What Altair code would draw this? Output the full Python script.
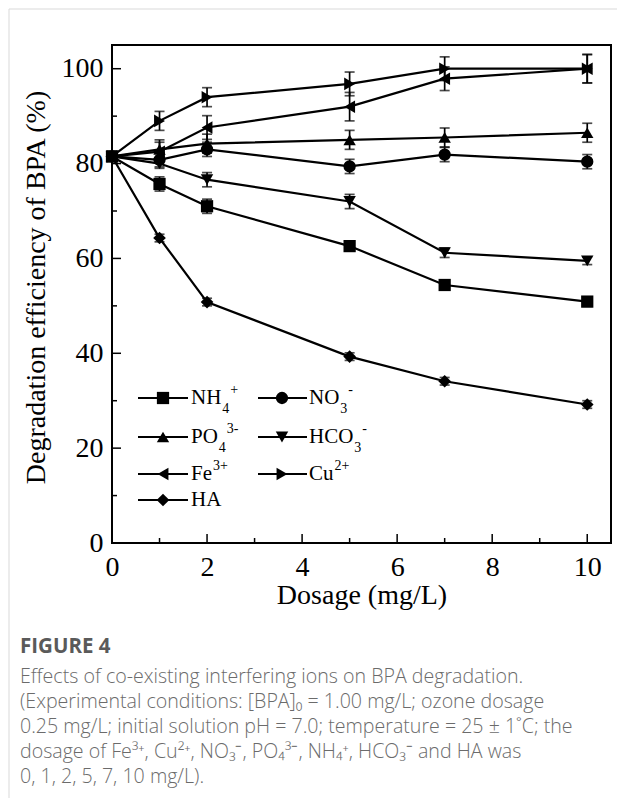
import altair as alt
import pandas as pd

# ---------------- data ----------------
dose = [0, 1, 2, 5, 7, 10]
series = ["NH4", "NO3", "PO4", "HCO3", "Fe", "Cu", "HA"]
shapes = ["square", "circle", "triangle-up", "triangle-down", "triangle-left", "triangle-right", "diamond"]
marker_sizes = [150, 160, 300, 300, 300, 300, 230]

nh4 = [81.5, 75.7, 71.0, 62.6, 54.4, 50.9]
no3 = [81.5, 80.8, 83.0, 79.4, 81.9, 80.4]
po4 = [81.5, 83.0, 84.2, 85.0, 85.5, 86.5]
hco3 = [81.5, 80.0, 76.6, 72.0, 61.2, 59.5]
fe = [81.5, 82.5, 87.6, 92.0, 97.9, 100.0]
cu = [81.5, 89.0, 94.0, 96.8, 100.0, 100.0]
ha = [81.5, 64.3, 50.8, 39.3, 34.1, 29.2]

nh4_err = [1.0, 1.5, 1.5, 1.0, 1.0, 1.0]
no3_err = [1.0, 1.5, 1.5, 1.5, 1.5, 1.5]
po4_err = [1.0, 2.0, 2.0, 2.0, 2.0, 2.0]
hco3_err = [1.0, 1.0, 1.5, 1.5, 1.0, 0.8]
fe_err = [1.0, 2.0, 2.5, 3.0, 2.5, 3.0]
cu_err = [1.0, 2.0, 2.0, 2.5, 2.5, 3.0]
ha_err = [1.0, 0.8, 0.8, 0.8, 0.8, 0.8]

values = [nh4, no3, po4, hco3, fe, cu, ha]
errors = [nh4_err, no3_err, po4_err, hco3_err, fe_err, cu_err, ha_err]

x_major = [0, 2, 4, 6, 8, 10]
x_minor = [1, 3, 5, 7, 9]
y_major = [0, 20, 40, 60, 80, 100]
y_minor = [10, 30, 50, 70, 90]

# legend text pieces
leg_main = ["NH", "NO", "PO", "HCO", "Fe", "Cu", "HA"]
leg_sub = ["4", "3", "4", "3", "", "", ""]
leg_sup = ["+", "-", "3-", "-", "3+", "2+", ""]

caption_title = "FIGURE 4"
caption_lines = [
    "Effects of co-existing interfering ions on BPA degradation.",
    "(Experimental conditions: [BPA]\u2080 = 1.00 mg/L; ozone dosage",
    "0.25 mg/L; initial solution pH = 7.0; temperature = 25 \u00b1 1\u02daC; the",
    "dosage of Fe\u00b3\u207a, Cu\u00b2\u207a, NO\u2083\u207b, PO\u2084\u00b3\u207b, NH\u2084\u207a, HCO\u2083\u207b and HA was",
    "0, 1, 2, 5, 7, 10 mg/L).",
]

# ---------------- layout constants ----------------
W, H = 499, 498
PAD_L, PAD_T, PAD_R, PAD_B = 112, 45, 6, 255
SERIF = "Liberation Serif"
SANS = "Open Sans"

rows = []
for s, vals, errs in zip(series, values, errors):
    for d, v, e in zip(dose, vals, errs):
        rows.append({"series": s, "dose": d, "value": v, "lo": v - e, "hi": v + e})
df = pd.DataFrame(rows)

xscale = alt.Scale(domain=[0, 10.5], nice=False, zero=False)
yscale = alt.Scale(domain=[0, 105], nice=False, zero=False)
xaxis = alt.Axis(values=x_major, ticks=False, domain=False, grid=False, labelFont=SERIF,
                 labelFontSize=28, labelColor="black", labelPadding=10, title="Dosage (mg/L)",
                 titleFont=SERIF, titleFontSize=28, titleFontWeight="normal", titleColor="black",
                 titleBaseline="middle", titleY=52, labelFlush=False)
yaxis = alt.Axis(values=y_major, ticks=False, domain=False, grid=False, labelFont=SERIF,
                 labelFontSize=28, labelColor="black", labelPadding=9,
                 title="Degradation efficiency of BPA (%)", titleFont=SERIF, titleFontSize=28,
                 titleFontWeight="normal", titleColor="black", titleAngle=270, titleAlign="center",
                 titleBaseline="middle", titleX=-76, titleY=242, labelFlush=False)
XT = "Dosage (mg/L)"
YT = "Degradation efficiency of BPA (%)"

def X(field):
    return alt.X(field, type="quantitative", scale=xscale, axis=xaxis, title=XT)

def Y(field):
    return alt.Y(field, type="quantitative", scale=yscale, axis=yaxis, title=YT)

shape_scale = alt.Scale(domain=series, range=shapes)
size_scale = alt.Scale(domain=series, range=marker_sizes)

lines = alt.Chart(df).mark_line(color="black", strokeWidth=2.2).encode(
    x=X("dose"), y=Y("value"), detail="series:N")
err_rules = alt.Chart(df).mark_rule(color="black", strokeWidth=1.7).encode(
    x=X("dose"), y=Y("lo"), y2="hi")
cap_lo = alt.Chart(df).mark_tick(color="black", orient="horizontal", size=10, thickness=1.7).encode(
    x=X("dose"), y=Y("lo"))
cap_hi = alt.Chart(df).mark_tick(color="black", orient="horizontal", size=10, thickness=1.7).encode(
    x=X("dose"), y=Y("hi"))
points = alt.Chart(df).mark_point(filled=True, color="black", opacity=1).encode(
    x=X("dose"), y=Y("value"),
    shape=alt.Shape("series:N", scale=shape_scale, legend=None),
    size=alt.Size("series:N", scale=size_scale, legend=None))

# inward axis ticks
ymaj = pd.DataFrame({"t": y_major})
ymin = pd.DataFrame({"t": y_minor})
xmaj = pd.DataFrame({"t": x_major})
xmin = pd.DataFrame({"t": x_minor})
tick_layers = [
    alt.Chart(ymaj).mark_rule(color="black", strokeWidth=1.5).encode(
        y=Y("t"), x=alt.value(0), x2=alt.value(9)),
    alt.Chart(ymin).mark_rule(color="black", strokeWidth=1.5).encode(
        y=Y("t"), x=alt.value(0), x2=alt.value(5)),
    alt.Chart(xmaj).mark_rule(color="black", strokeWidth=1.5).encode(
        x=X("t"), y=alt.value(H), y2=alt.value(H - 9)),
    alt.Chart(xmin).mark_rule(color="black", strokeWidth=1.5).encode(
        x=X("t"), y=alt.value(H), y2=alt.value(H - 5)),
]

# ---------------- custom legend ----------------
col_line = [(26, 76), (146, 195)]
col_mark = [51, 170]
col_text = [79, 197]
row_y = [353, 392, 429, 455]
leg_pos = [(0, 0), (1, 0), (0, 1), (1, 1), (0, 2), (1, 2), (0, 3)]

times_w = {"N": 0.722, "H": 0.722, "O": 0.722, "P": 0.556, "C": 0.667, "F": 0.556,
           "e": 0.444, "u": 0.5, "A": 0.722}
FS_MAIN, FS_SMALL = 21, 14

leg_rows = []
txt_rows = []
for s, m, sb, sp, (c, r) in zip(series, leg_main, leg_sub, leg_sup, leg_pos):
    y = row_y[r]
    leg_rows.append({"series": s, "x1": col_line[c][0], "x2": col_line[c][1],
                     "xm": col_mark[c], "y": y})
    tx = col_text[c]
    txt_rows.append({"t": m, "px": tx, "py": y, "kind": "main"})
    wm = sum(times_w.get(ch, 0.5) for ch in m) * FS_MAIN
    after = tx + wm + 1
    if sb:
        txt_rows.append({"t": sb, "px": after, "py": y + 11, "kind": "small"})
        after = after + 0.5 * FS_SMALL + 1
    if sp:
        txt_rows.append({"t": sp, "px": after, "py": y - 8, "kind": "small"})
leg_df = pd.DataFrame(leg_rows)
txt_df = pd.DataFrame(txt_rows)

PX = lambda f: alt.X(f, type="quantitative", scale=None, axis=None)
PY = lambda f: alt.Y(f, type="quantitative", scale=None, axis=None)

leg_lines = alt.Chart(leg_df).mark_rule(color="black", strokeWidth=2.2).encode(
    x=PX("x1"), x2="x2", y=PY("y"))
leg_points = alt.Chart(leg_df).mark_point(filled=True, color="black", opacity=1).encode(
    x=PX("xm"), y=PY("y"),
    shape=alt.Shape("series:N", scale=shape_scale, legend=None),
    size=alt.Size("series:N", scale=size_scale, legend=None))
leg_main_txt = alt.Chart(txt_df[txt_df.kind == "main"]).mark_text(
    align="left", baseline="middle", font=SERIF, fontSize=FS_MAIN, color="black").encode(
    x=PX("px"), y=PY("py"), text="t:N")
leg_small_txt = alt.Chart(txt_df[txt_df.kind == "small"]).mark_text(
    align="left", baseline="middle", font=SERIF, fontSize=FS_SMALL, color="black").encode(
    x=PX("px"), y=PY("py"), text="t:N")

# ---------------- caption & page border ----------------
cap_df = pd.DataFrame({"line": caption_lines,
                       "py": [632 + 25 * i for i in range(len(caption_lines))]})
cap_text = alt.Chart(cap_df).mark_text(
    align="left", baseline="middle", font=SANS, fontSize=19.6, fontWeight=300,
    color="#6b6b6b").encode(
    x=alt.value(-92), y=PY("py"), text="line:N")
cap_title = alt.Chart(pd.DataFrame({"t": [caption_title]})).mark_text(
    align="left", baseline="middle", font=SANS, fontSize=20.5, fontWeight="bold", color="#5a5a5a").encode(
    x=alt.value(-92), y=alt.value(602), text="t:N")

one = pd.DataFrame({"a": [0]})
border_v = alt.Chart(one).mark_rule(color="#d9d9d9", strokeWidth=1).encode(
    x=alt.value(-103), y=alt.value(-36), y2=alt.value(H + PAD_B))
border_h = alt.Chart(one).mark_rule(color="#d9d9d9", strokeWidth=1).encode(
    x=alt.value(-103), x2=alt.value(W + PAD_R), y=alt.value(-36))

chart = alt.layer(
    border_v, border_h,
    *tick_layers,
    lines, err_rules, cap_lo, cap_hi, points,
    leg_lines, leg_points, leg_main_txt, leg_small_txt,
    cap_title, cap_text,
).properties(
    width=W, height=H,
    autosize="none",
    padding={"left": PAD_L, "top": PAD_T, "right": PAD_R, "bottom": PAD_B},
    background="white",
).configure_view(stroke="black", strokeWidth=2)

chart.save("out.html", embed_options={"renderer": "svg", "actions": False})
